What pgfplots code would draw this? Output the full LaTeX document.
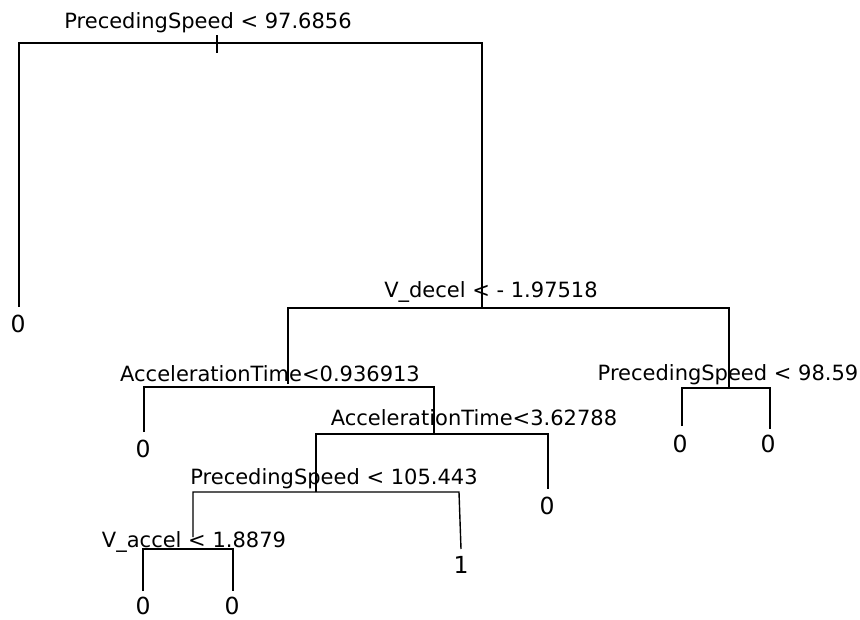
\documentclass[border=0pt]{standalone}
\usepackage{pgfplots}
\pgfplotsset{compat=1.18}
\usepackage{fontspec}
\setmainfont{DejaVu Sans}
\tikzset{
  lab/.style={anchor=base, inner sep=0pt, font=\fontsize{21}{25}\selectfont},
  leaf/.style={anchor=base, inner sep=0pt, font=\fontsize{23.5}{27}\selectfont},
  tree/.style={black, line width=1.4pt, mark=none, solid, line join=miter},
}
\begin{document}
\begin{tikzpicture}
\begin{axis}[
  hide axis, scale only axis,
  width=860pt, height=619pt,
  xmin=0, xmax=860, ymin=0, ymax=619,
  y dir=reverse, clip=false,
]
% root: PrecedingSpeed < 97.6856
\addplot[tree] coordinates {(19,307) (19,43) (482,43) (482,308)};
\addplot[tree] coordinates {(217,35) (217,53)};
% V_decel < -1.97518
\addplot[tree] coordinates {(288,384) (288,308) (729,308) (729,388)};
% AccelerationTime<0.936913
\addplot[tree] coordinates {(144,432) (144,387) (434,387) (434,434)};
% AccelerationTime<3.62788
\addplot[tree] coordinates {(316,492) (316,434) (548,434) (548,489)};
% PrecedingSpeed < 105.443
\addplot[tree] coordinates {(193,537) (193,492) (459,492) (461,549)};
% V_accel < 1.8879
\addplot[tree] coordinates {(143,591) (143,549) (233,549) (233,591)};
% PrecedingSpeed < 98.59
\addplot[tree] coordinates {(682,426) (682,388) (770,388) (770,429)};

\node[lab] at (axis cs:208,28) {PrecedingSpeed < 97.6856};
\node[lab] at (axis cs:491,297) {V\_decel < - 1.97518};
\node[lab] at (axis cs:270,381) {AccelerationTime<0.936913};
\node[lab] at (axis cs:474,425) {AccelerationTime<3.62788};
\node[lab] at (axis cs:334,484) {PrecedingSpeed < 105.443};
\node[lab] at (axis cs:194,547) {V\_accel < 1.8879};
\node[lab] at (axis cs:728,380) {PrecedingSpeed < 98.59};

\node[leaf] at (axis cs:18,332) {0};
\node[leaf] at (axis cs:143,457) {0};
\node[leaf] at (axis cs:547,514) {0};
\node[leaf] at (axis cs:461,573) {1};
\node[leaf] at (axis cs:143,614) {0};
\node[leaf] at (axis cs:232,614) {0};
\node[leaf] at (axis cs:680,452) {0};
\node[leaf] at (axis cs:768,452) {0};
\end{axis}
\pgfresetboundingbox
\path[use as bounding box] (current axis.south west) rectangle (current axis.north east);
\end{tikzpicture}
\end{document}
